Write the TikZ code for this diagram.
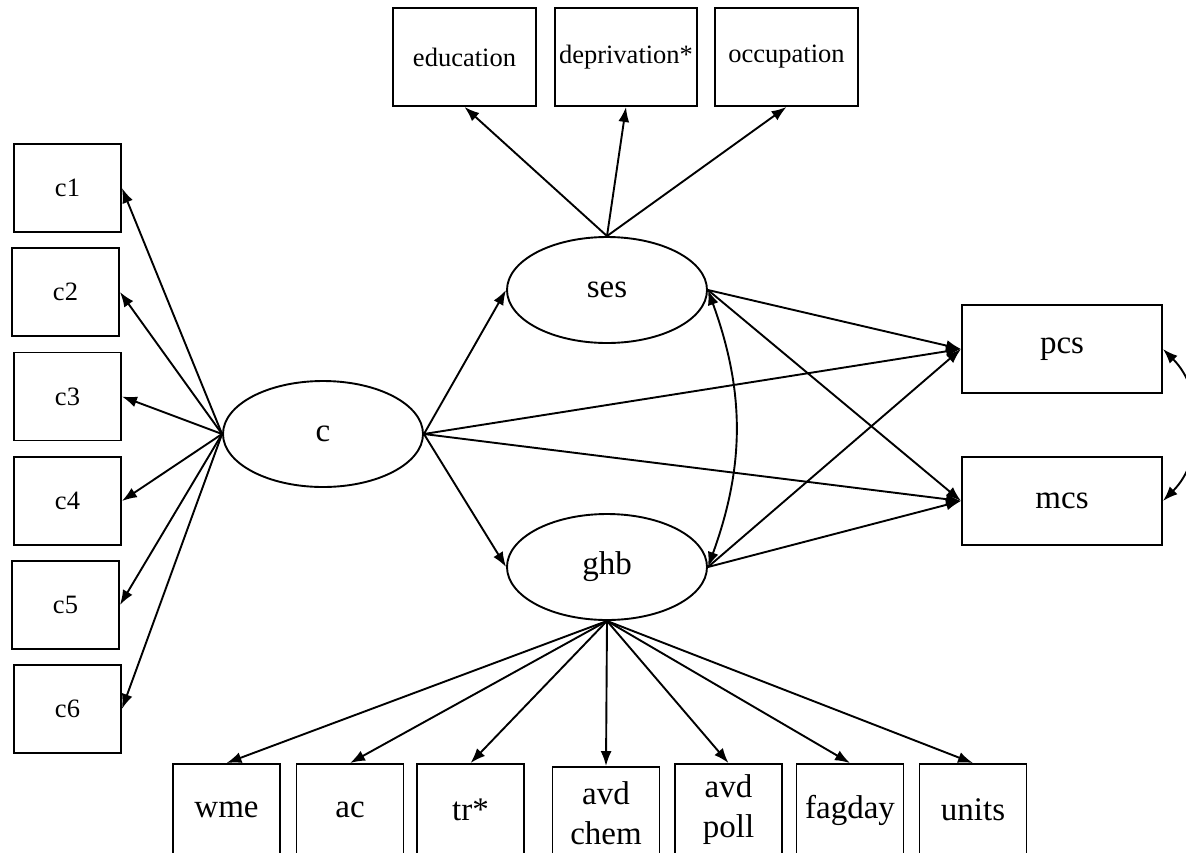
\documentclass[tikz,border=0pt]{standalone}
\usepackage{fontspec}
\setmainfont{Liberation Serif}
\usetikzlibrary{arrows.meta,shapes.geometric}

\begin{document}
\begin{tikzpicture}[x=1pt,y=-1pt,line width=1.9pt,
  obs/.style={draw,rectangle,inner sep=0pt,minimum width=107pt,minimum height=88pt,font=\fontsize{26.5}{28}\selectfont},
  bigobs/.style={obs,minimum height=92pt,font=\fontsize{33}{40}\selectfont,align=center},
  lat/.style={draw,ellipse,inner sep=0pt,minimum width=200pt,minimum height=106pt,font=\fontsize{33}{36}\selectfont},
  arr/.style={-{Latex[length=15pt,width=11pt]}},
  dbl/.style={{Latex[length=15pt,width=11pt]}-{Latex[length=15pt,width=11pt]}}]
\useasboundingbox (0,0) rectangle (1186,852);

% latent variables
\node [lat] (c) at (323,434) {c};
\node [lat] (ses) at (607,290) {ses};
\node [lat] (ghb) at (607,567) {ghb};

% indicators of ses
\node [obs,minimum width=143pt,minimum height=98pt] (edu) at (464.5,57) {education};
\node [obs,minimum width=142pt,minimum height=98pt] (dep) at (626,57) {deprivation*};
\node [obs,minimum width=143pt,minimum height=98pt] (occ) at (786.5,57) {occupation};

% indicators of c
\node [obs] (c1) at (67.5,188) {c1};
\node [obs] (c2) at (65.5,292) {c2};
\node [obs] (c3) at (67.5,396.5) {c3};
\node [obs] (c4) at (67.5,501) {c4};
\node [obs] (c5) at (65.5,605) {c5};
\node [obs] (c6) at (67.5,709) {c6};

% outcomes
\node [bigobs,minimum width=200pt,minimum height=88pt] (pcs) at (1062,349) {pcs};
\node [bigobs,minimum width=200pt,minimum height=88pt] (mcs) at (1062,501) {mcs};

% indicators of ghb
\node [bigobs] (wme) at (226.5,810) {wme};
\node [bigobs] (ac) at (350,810) {ac};
\node [bigobs] (tr) at (470.5,810) {tr*};
\node [bigobs] (chem) at (606,813) {avd\\chem};
\node [bigobs] (poll) at (728.5,810) {avd\\poll};
\node [bigobs] (fag) at (850,810) {fagday};
\node [bigobs] (units) at (973,810) {units};

% loadings
\draw [arr] (c.west) -- (c1.east);
\draw [arr] (c.west) -- (c2.east);
\draw [arr] (c.west) -- (c3.east);
\draw [arr] (c.west) -- (c4.east);
\draw [arr] (c.west) -- (c5.east);
\draw [arr] (c.west) -- (c6.east);

\draw [arr] (ses.north) -- (edu.south);
\draw [arr] (ses.north) -- (dep.south);
\draw [arr] (ses.north) -- (occ.south);

\draw [arr] (ghb.south) -- (wme.north);
\draw [arr] (ghb.south) -- (ac.north);
\draw [arr] (ghb.south) -- (tr.north);
\draw [arr] (ghb.south) -- (chem.north);
\draw [arr] (ghb.south) -- (poll.north);
\draw [arr] (ghb.south) -- (fag.north);
\draw [arr] (ghb.south) -- (units.north);

% paths
\draw [arr] (c.east) -- (ses.west);
\draw [arr] (c.east) -- (ghb.west);
\draw [arr] (c.east) -- (pcs.west);
\draw [arr] (c.east) -- (mcs.west);
\draw [arr] (ses.east) -- (pcs.west);
\draw [arr] (ses.east) -- (mcs.west);
\draw [arr] (ghb.east) -- (pcs.west);
\draw [arr] (ghb.east) -- (mcs.west);

% covariances
\draw [dbl] (ses.east) to [bend left=20] (ghb.east);
\draw [dbl] (pcs.east) to [bend left=45] (mcs.east);

\end{tikzpicture}
\end{document}
